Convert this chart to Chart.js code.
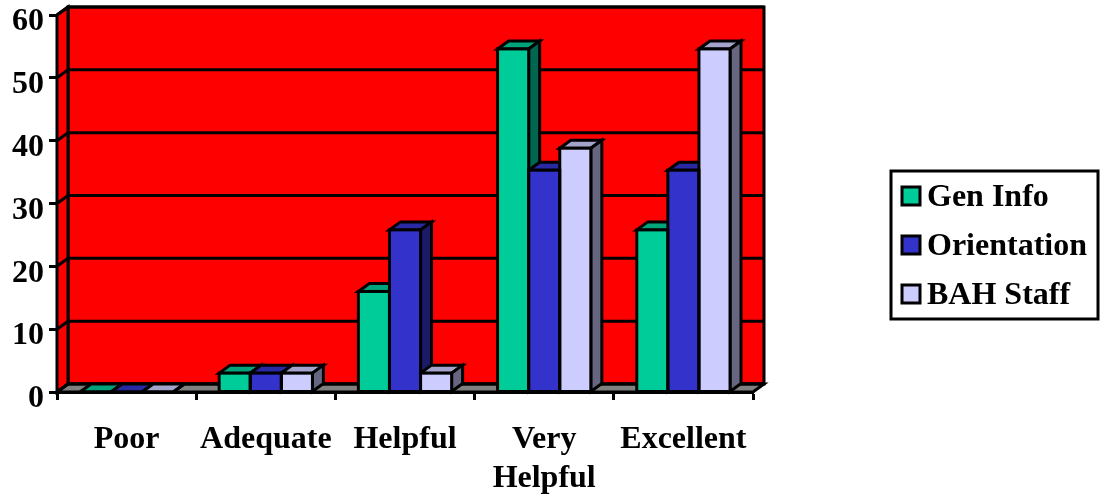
<!DOCTYPE html>
<html>
<head>
<meta charset="utf-8">
<title>Ratings</title>
<script src="https://cdn.jsdelivr.net/npm/chart.js@4"></script>
<style>
  html, body { margin: 0; padding: 0; background: #FFFFFF; }
  canvas { display: block; }
</style>
</head>
<body>
<canvas id="ratingsChart" width="1106" height="499"></canvas>
<script>
const categories = ['Poor', 'Adequate', 'Helpful', ['Very', 'Helpful'], 'Excellent'];
const yTicks = [0, 10, 20, 30, 40, 50, 60];

const seriesNames = ['Gen Info', 'Orientation', 'BAH Staff'];
const genInfo = [0, 3, 16, 54.6, 25.8];
const orientation = [0, 3, 25.8, 35.3, 35.3];
const bahStaff = [0, 3, 3, 38.8, 54.6];

const frontColors = ['#00CC99', '#3333CC', '#CCCCFF'];
const topColors = ['#00A37A', '#2929A3', '#A3A3CC'];
const sideColors = ['#006650', '#1A1A66', '#666680'];

const FONT = { family: "'Liberation Serif', 'Times New Roman', serif", size: 32, weight: 'bold' };
const DEPTH_X = 11;
const DEPTH_Y = 8;
const LINE = 3;

function fillShape(ctx, points, fill) {
    ctx.beginPath();
    points.forEach(([x, y], i) => i ? ctx.lineTo(x, y) : ctx.moveTo(x, y));
    ctx.closePath();
    ctx.fillStyle = fill;
    ctx.fill();
    ctx.stroke();
}

// Red back wall, left wall, grey floor and the gridlines that wrap around them
const wallsPlugin = {
    id: 'walls',
    beforeDatasetsDraw(chart) {
        const { ctx, chartArea: a, scales } = chart;
        ctx.save();
        ctx.strokeStyle = '#000000';
        ctx.lineWidth = LINE;
        ctx.lineJoin = 'miter';

        fillShape(ctx, [
            [a.left + DEPTH_X, a.top - DEPTH_Y], [a.right + DEPTH_X, a.top - DEPTH_Y],
            [a.right + DEPTH_X, a.bottom - DEPTH_Y], [a.left + DEPTH_X, a.bottom - DEPTH_Y]
        ], '#FF0000');
        fillShape(ctx, [
            [a.left, a.top], [a.left + DEPTH_X, a.top - DEPTH_Y],
            [a.left + DEPTH_X, a.bottom - DEPTH_Y], [a.left, a.bottom]
        ], '#FF0000');
        fillShape(ctx, [
            [a.left, a.bottom], [a.left + DEPTH_X, a.bottom - DEPTH_Y],
            [a.right + DEPTH_X, a.bottom - DEPTH_Y], [a.right, a.bottom]
        ], '#808080');

        scales.y.ticks.forEach(t => {
            const y = scales.y.getPixelForValue(t.value);
            ctx.beginPath();
            ctx.moveTo(a.left, y);
            ctx.lineTo(a.left + DEPTH_X, y - DEPTH_Y);
            ctx.lineTo(a.right + DEPTH_X, y - DEPTH_Y);
            ctx.stroke();
        });

        // Top and side faces go left to right so nearer bars overlap correctly
        for (let c = 0; c < categories.length; c++) {
            chart.data.datasets.forEach((ds, d) => {
                const bar = chart.getDatasetMeta(d).data[c];
                const left = bar.x - bar.width / 2;
                const right = bar.x + bar.width / 2;
                fillShape(ctx, [
                    [left, bar.y], [left + DEPTH_X, bar.y - DEPTH_Y],
                    [right + DEPTH_X, bar.y - DEPTH_Y], [right, bar.y]
                ], topColors[d]);
                fillShape(ctx, [
                    [right, bar.y], [right + DEPTH_X, bar.y - DEPTH_Y],
                    [right + DEPTH_X, bar.base - DEPTH_Y], [right, bar.base]
                ], sideColors[d]);
            });
        }
        ctx.restore();
    },
    afterDatasetsDraw(chart) {
        const { ctx } = chart;
        ctx.save();
        ctx.strokeStyle = '#000000';
        ctx.lineWidth = LINE;
        chart.data.datasets.forEach((ds, d) => {
            chart.getDatasetMeta(d).data.forEach(bar => {
                ctx.strokeRect(bar.x - bar.width / 2, bar.y, bar.width, bar.base - bar.y);
            });
        });
        ctx.restore();
    }
};

// Boxed legend on the right of the plot
const legendBoxPlugin = {
    id: 'legendBox',
    afterDraw(chart) {
        const { ctx } = chart;
        ctx.save();
        ctx.fillStyle = '#FFFFFF';
        ctx.strokeStyle = '#000000';
        ctx.lineWidth = LINE;
        ctx.fillRect(891, 171, 207, 148);
        ctx.strokeRect(891, 171, 207, 148);
        ctx.font = `${FONT.weight} ${FONT.size}px ${FONT.family}`;
        ctx.textBaseline = 'middle';
        ctx.textAlign = 'left';
        chart.data.datasets.forEach((ds, i) => {
            const cy = 196 + i * 49;
            ctx.fillStyle = ds.backgroundColor;
            ctx.fillRect(902, cy - 9, 18, 18);
            ctx.strokeRect(902, cy - 9, 18, 18);
            ctx.fillStyle = '#000000';
            ctx.fillText(ds.label, 927, cy + 2);
        });
        ctx.restore();
    }
};

const seriesValues = [genInfo, orientation, bahStaff];

new Chart(document.getElementById('ratingsChart').getContext('2d'), {
    type: 'bar',
    data: {
        labels: categories,
        datasets: seriesNames.map((name, i) => ({
            label: name,
            data: seriesValues[i],
            backgroundColor: frontColors[i],
            borderWidth: 0,
            categoryPercentage: 0.67,
            barPercentage: 1.0,
            clip: false
        }))
    },
    plugins: [wallsPlugin, legendBoxPlugin],
    options: {
        responsive: false,
        animation: false,
        layout: { padding: { top: 15, right: 353, left: 0, bottom: 0 } },
        plugins: {
            legend: { display: false },
            tooltip: { enabled: false }
        },
        scales: {
            x: {
                z: 1,
                afterFit: scale => {
                    scale.height = 107;
                    scale.paddingLeft = 0;
                    scale.paddingRight = 0;
                },
                border: { color: '#000000', width: LINE },
                grid: {
                    drawOnChartArea: false,
                    tickColor: '#000000',
                    tickWidth: LINE,
                    tickLength: 8
                },
                ticks: {
                    color: '#000000',
                    font: FONT,
                    padding: 21,
                    maxRotation: 0,
                    autoSkip: false
                }
            },
            y: {
                z: 1,
                min: 0,
                max: 60,
                afterFit: scale => {
                    scale.width = 57;
                    scale.paddingTop = 0;
                    scale.paddingBottom = 0;
                },
                afterBuildTicks: scale => { scale.ticks = yTicks.map(value => ({ value })); },
                border: { color: '#000000', width: LINE },
                grid: {
                    drawOnChartArea: false,
                    tickColor: '#000000',
                    tickWidth: LINE,
                    tickLength: 8
                },
                ticks: {
                    color: '#000000',
                    // blank first line nudges each number a few pixels below its tick
                    font: { ...FONT, lineHeight: '14px' },
                    callback: value => ['', String(value)],
                    padding: 5
                }
            }
        }
    }
});
</script>
</body>
</html>
